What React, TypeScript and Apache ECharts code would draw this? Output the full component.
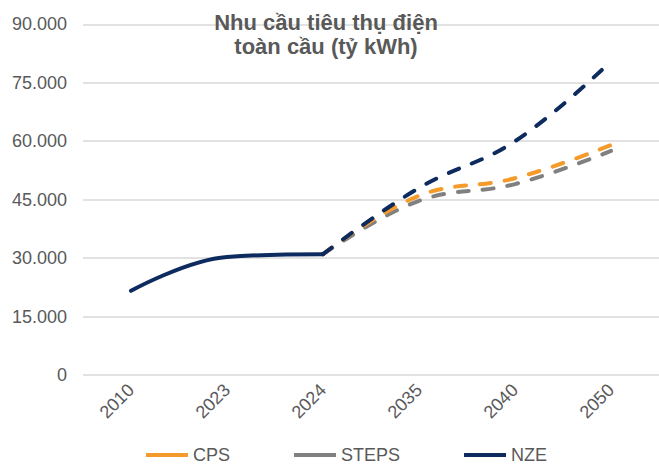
import React, { useEffect, useRef } from "react";
import * as echarts from "echarts";

const categories = ["2010", "2023", "2024", "2035", "2040", "2050"];
const historic = [21600, 30300, 31000, null, null, null];
const cps = [null, null, 31000, 46000, 50500, 59000];
const steps = [null, null, 31000, 44700, 49000, 57500];
const nze = [null, null, 31000, 48000, 60000, 80500];
const yTicks = { min: 0, max: 90000, interval: 15000 };
const titleText = "Nhu cầu tiêu thụ điện\ntoàn cầu (tỷ kWh)";

const FONT = "'Liberation Sans', Arial, sans-serif";
const TXT = "#595959";
const C_CPS = "#F59B2B";
const C_STEPS = "#808080";
const C_NZE = "#0D2B5E";

const fmt = (v: number) =>
  v === 0 ? "0" : String(v).replace(/\B(?=(\d{3})+(?!\d))/g, ".");

const toData = (arr: (number | null)[]) => arr.map((v) => (v === null ? "-" : v));

export default function App() {
  const ref = useRef<HTMLDivElement>(null);
  useEffect(() => {
    if (!ref.current) return;
    const chart = echarts.init(ref.current, undefined, { renderer: "svg" });
    const dashed = (name: string, color: string, data: (number | null)[], z: number) => ({
      name,
      type: "line",
      data: toData(data),
      color,
      smooth: 0.4,
      showSymbol: false,
      symbol: "none",
      z,
      lineStyle: { color, width: 4, type: [11, 14], cap: "round" },
    });
    chart.setOption({
      animation: false,
      backgroundColor: "#ffffff",
      title: {
        text: titleText,
        left: 321,
        top: 5,
        textAlign: "center",
        textStyle: {
          fontFamily: FONT,
          fontSize: 22,
          fontWeight: "bold",
          color: TXT,
          lineHeight: 24,
        },
      },
      grid: { left: 83, right: 0, top: 24.3, bottom: 91, containLabel: false },
      legend: {
        data: ["CPS", "STEPS", "NZE"],
        left: 146,
        top: 446,
        padding: 0,
        icon: "rect",
        itemWidth: 42,
        itemHeight: 4,
        itemGap: 64,
        textStyle: { fontFamily: FONT, fontSize: 18, color: TXT, lineHeight: 18 },
      },
      xAxis: {
        type: "category",
        data: categories,
        boundaryGap: true,
        axisLine: { show: false },
        axisTick: { show: false },
        axisLabel: {
          rotate: 45,
          margin: 12,
          fontFamily: FONT,
          fontSize: 18,
          color: TXT,
          interval: 0,
        },
        splitLine: { show: false },
      },
      yAxis: {
        type: "value",
        min: yTicks.min,
        max: yTicks.max,
        interval: yTicks.interval,
        axisLine: { show: false },
        axisTick: { show: false },
        axisLabel: {
          margin: 16,
          fontFamily: FONT,
          fontSize: 18,
          color: TXT,
          formatter: (v: number) => fmt(v),
        },
        splitLine: { lineStyle: { color: "#D9D9D9", width: 1.5 } },
      },
      series: [
        {
          name: "historic",
          type: "line",
          data: toData(historic),
          smooth: 0.4,
          showSymbol: false,
          symbol: "none",
          z: 5,
          color: C_NZE,
          lineStyle: { color: C_NZE, width: 4, cap: "round" },
        },
        dashed("STEPS", C_STEPS, steps, 2),
        dashed("CPS", C_CPS, cps, 3),
        dashed("NZE", C_NZE, nze, 4),
      ],
    });
    return () => chart.dispose();
  }, []);
  return (
    <div
      ref={ref}
      style={{ position: "fixed", left: 0, top: 0, width: 659, height: 466 }}
    />
  );
}
